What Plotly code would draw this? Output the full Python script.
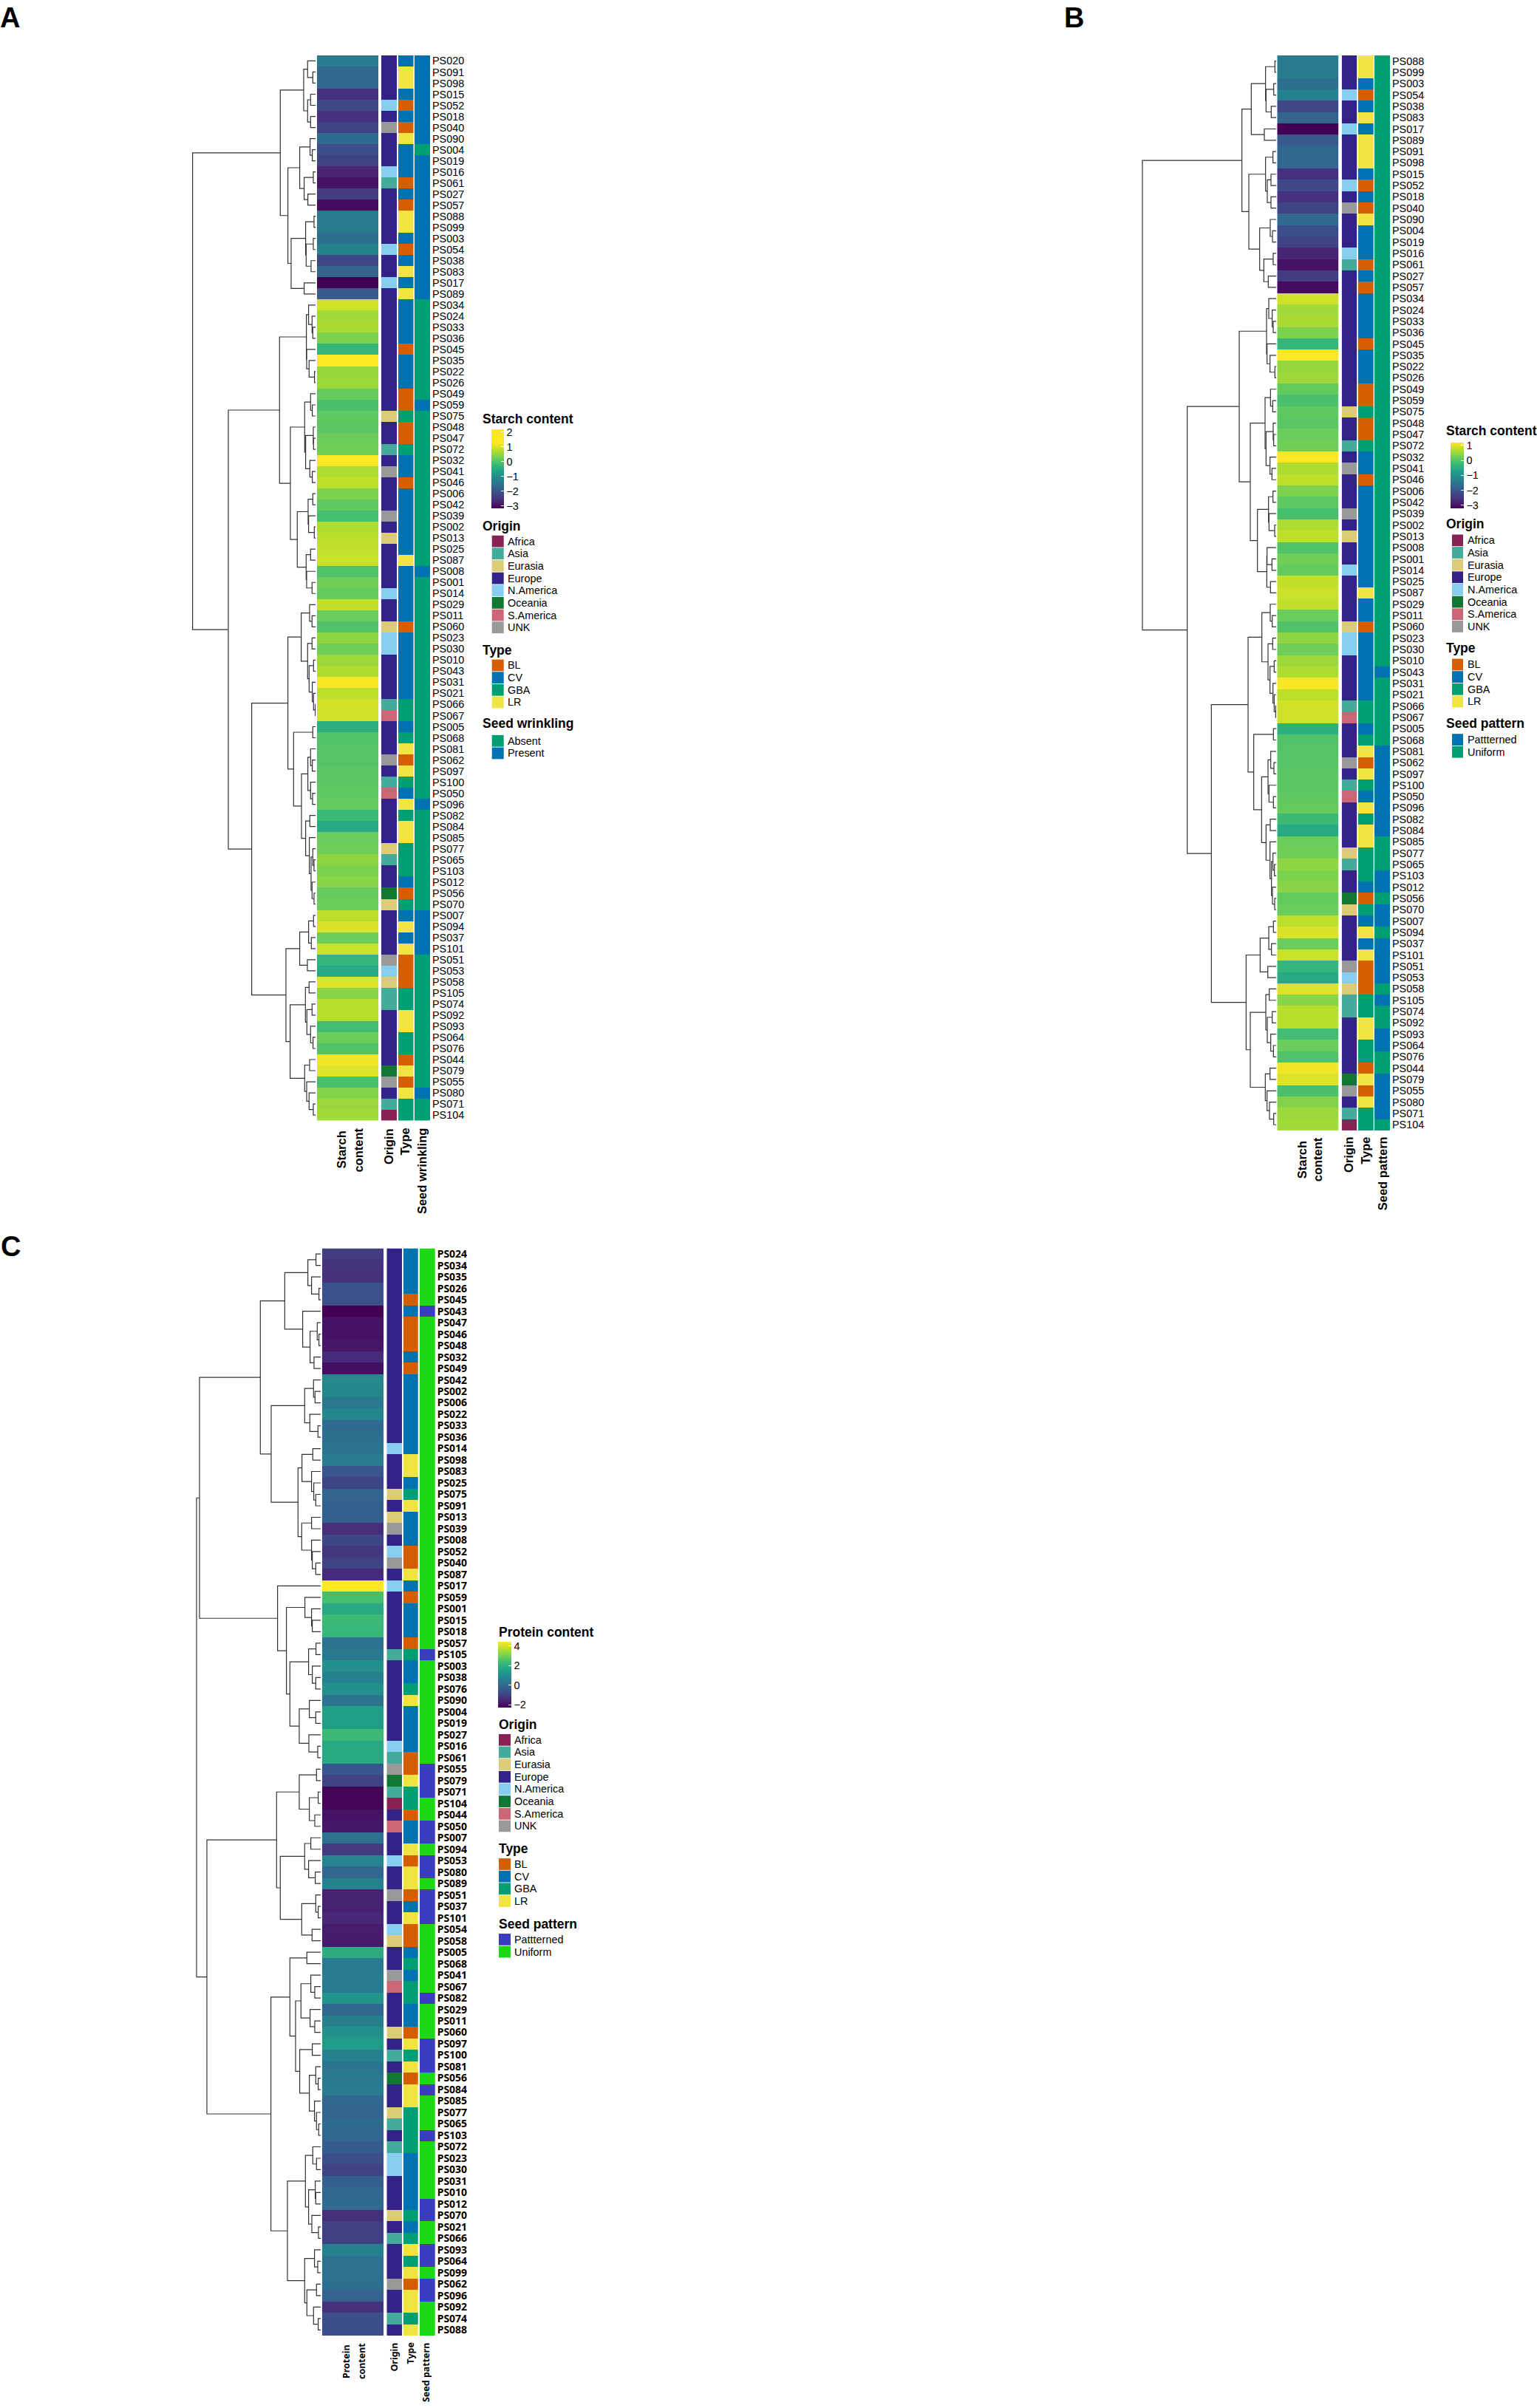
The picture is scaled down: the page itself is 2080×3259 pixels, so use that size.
import plotly.graph_objects as go

W, H = 2080, 3259
SANS = "Liberation Sans"
NOTO = "Noto Sans"

# ---------- data ----------
samples_a = """PS020 PS091 PS098 PS015 PS052 PS018 PS040 PS090 PS004 PS019 PS016 PS061 PS027 PS057 PS088 PS099 PS003 PS054 PS038 PS083 PS017 PS089
PS034 PS024 PS033 PS036 PS045 PS035 PS022 PS026 PS049 PS059 PS075 PS048 PS047 PS072 PS032 PS041 PS046 PS006 PS042 PS039 PS002 PS013 PS025 PS087 PS008 PS001 PS014
PS029 PS011 PS060 PS023 PS030 PS010 PS043 PS031 PS021 PS066 PS067 PS005 PS068 PS081 PS062 PS097 PS100 PS050 PS096 PS082 PS084 PS085 PS077 PS065 PS103 PS012 PS056 PS070
PS007 PS094 PS037 PS101 PS051 PS053 PS058 PS105 PS074 PS092 PS093 PS064 PS076 PS044 PS079 PS055 PS080 PS071 PS104""".split()

samples_b = """PS088 PS099 PS003 PS054 PS038 PS083 PS017 PS089 PS091 PS098 PS015 PS052 PS018 PS040 PS090 PS004 PS019 PS016 PS061 PS027 PS057
PS034 PS024 PS033 PS036 PS045 PS035 PS022 PS026 PS049 PS059 PS075 PS048 PS047 PS072 PS032 PS041 PS046 PS006 PS042 PS039 PS002 PS013 PS008 PS001 PS014 PS025 PS087
PS029 PS011 PS060 PS023 PS030 PS010 PS043 PS031 PS021 PS066 PS067 PS005 PS068 PS081 PS062 PS097 PS100 PS050 PS096 PS082 PS084 PS085 PS077 PS065 PS103 PS012 PS056 PS070
PS007 PS094 PS037 PS101 PS051 PS053 PS058 PS105 PS074 PS092 PS093 PS064 PS076 PS044 PS079 PS055 PS080 PS071 PS104""".split()

samples_c = """PS024 PS034 PS035 PS026 PS045 PS043 PS047 PS046 PS048 PS032 PS049 PS042 PS002 PS006 PS022 PS033 PS036 PS014 PS098 PS083 PS025 PS075 PS091 PS013 PS039 PS008 PS052 PS040 PS087
PS017 PS059 PS001 PS015 PS018 PS057 PS105 PS003 PS038 PS076 PS090 PS004 PS019 PS027 PS016 PS061 PS055 PS079 PS071 PS104 PS044 PS050 PS007 PS094 PS053 PS080 PS089 PS051 PS037 PS101 PS054 PS058
PS005 PS068 PS041 PS067 PS082 PS029 PS011 PS060 PS097 PS100 PS081 PS056 PS084 PS085 PS077 PS065 PS103 PS072 PS023 PS030 PS031 PS010 PS012 PS070 PS021 PS066 PS093 PS064 PS099 PS062 PS096 PS092 PS074 PS088""".split()

starch_a = [-1.35,-1.75,-1.75,-2.58,-2.23,-2.58,-2.32,-1.70,-2.14,-2.32,-2.76,-2.98,-2.41,-3.07,-1.35,-1.35,-1.62,-1.26,-2.23,-1.79,-3.2,-1.97,
 .89,.58,.63,.32,-.30,1.2,.50,.54,.14,-.08,.10,.06,.19,.23,1.2,.67,.76,.32,.10,-.12,.67,.76,.80,.85,-.03,.23,.14,
 .80,.19,-.03,.45,.23,.54,.67,1.16,.76,.89,.89,-.43,-.03,.01,.01,.06,.06,.10,.14,-.21,-.56,.19,.23,.45,.32,.41,.14,.19,
 .76,.94,.19,.85,-.30,-.56,.98,.41,.72,.72,-.16,.19,-.03,1.11,.98,-.08,.36,.54,.58]

protein_c = [-1.09,-1.30,-1.36,-.63,-.63,-2.3,-1.97,-1.97,-1.90,-1.50,-2.03,.85,.78,.38,.78,-.02,.11,.25,.51,-.49,-.89,-.16,-.29,-.29,-1.43,-.89,-1.23,-.96,-1.50,
 4.4,2.39,1.72,2.26,2.19,.25,.38,1.05,.65,1.05,.25,1.45,1.45,2.26,1.72,1.72,-.49,-.96,-2.23,-2.23,-1.97,-1.90,.18,-1.16,.72,-.09,.65,-1.70,-1.70,-1.56,-1.76,-1.83,
 1.85,.45,.51,.45,1.18,-.09,.58,1.05,1.39,.65,.25,.38,.51,-.09,-.16,-.02,-.09,-.36,-.69,-.96,-.29,-.09,-.02,-1.43,-1.03,-1.03,.65,.18,.18,.11,-.22,-1.36,-.69,-.69]

origin_names = ["Africa", "Asia", "Eurasia", "Europe", "N.America", "Oceania", "S.America", "UNK"]
origin_colors = ["#882255", "#44AA99", "#DDCC77", "#332288", "#88CCEE", "#117733", "#CC6677", "#999999"]
type_names = ["BL", "CV", "GBA", "LR"]
type_colors = ["#D55E00", "#0072B2", "#009E73", "#F0E442"]
wrinkling_names = ["Absent", "Present"]
wrinkling_colors = ["#009E73", "#0072B2"]
pattern_names = ["Pattterned", "Uniform"]
pattern_colors_b = ["#0072B2", "#009E73"]
pattern_colors_c = ["#3C3CC0", "#1CD914"]

origin_a = """Europe Europe Europe Europe N.America Europe UNK Europe Europe Europe N.America Asia Europe Europe Europe Europe Europe N.America Europe Europe N.America Europe
Europe Europe Europe Europe Europe Europe Europe Europe Europe Europe Eurasia Europe Europe Asia Europe UNK Europe Europe Europe UNK Europe Eurasia Europe Europe Europe Europe N.America
Europe Europe Eurasia N.America N.America Europe Europe Europe Europe Asia S.America Europe Europe Europe UNK Europe Asia S.America Europe Europe Europe Europe Eurasia Asia Europe Europe Oceania Eurasia
Europe Europe Europe Europe UNK N.America Eurasia Asia Asia Europe Europe Europe Europe Europe Oceania UNK Europe Asia Africa""".split()

type_a = """CV LR LR CV BL CV BL LR CV CV CV BL CV BL LR LR CV BL CV LR CV LR
CV CV CV CV BL CV CV CV BL BL GBA BL BL GBA CV CV BL CV CV CV CV CV CV LR CV CV CV
CV CV BL CV CV CV CV CV CV GBA GBA CV GBA LR BL LR GBA CV LR GBA LR LR GBA GBA GBA CV BL GBA
CV LR CV LR BL BL BL GBA GBA LR LR GBA GBA BL LR BL LR GBA GBA""".split()

wrinkling_present = """PS020 PS091 PS098 PS015 PS052 PS018 PS040 PS090 PS019 PS016 PS061 PS027 PS057 PS088 PS099 PS003 PS054 PS038 PS083 PS017 PS089
PS059 PS008 PS096 PS007 PS094 PS037 PS101 PS080""".split()
patterned_b = """PS043 PS081 PS062 PS097 PS100 PS050 PS096 PS082 PS084 PS103 PS012 PS070 PS007 PS037 PS101 PS051 PS053 PS105 PS093 PS064 PS079 PS055 PS080 PS071""".split()
patterned_c = """PS043 PS105 PS055 PS079 PS071 PS050 PS007 PS053 PS080 PS051 PS037 PS101 PS082 PS097 PS100 PS081 PS084 PS103 PS012 PS070 PS093 PS064 PS062 PS096""".split()

# merge trees: (height, left, right); 0 is a leaf, leaves in row order
tree_a = (500,
 (144,
  (49, (33, 0, (12, 0, 0)), (33, (21, 0, 0), (21, 0, 0))),
  (113,
   (65, (23, 0, (14, 0, 0)), (47, (10, 0, 0), (32, 0, 0))),
   (100, (41, (7, 0, 0), (39, (10, 0, 0), (19, 0, 0))), (47, 0, 0)))),
 (355,
  (147,
   (38, (29, 0, (15, 0, (12, 0, 0))), (37, 0, (27, 0, (5, 0, 0)))),
   (103,
    (45, (21, 0, (14, 0, 0)), (41, (10, 0, (9, 0, 0)), (24, 0, (14, 0, 0)))),
    (75, (31, (12, 0, 0), (29, 0, (6, 0, 0))), (39, (21, 0, 0), (37, 0, (15, 0, 0)))))),
  (260,
   (113,
    (59, (25, 0, (15, 0, 0)), (33, (15, 0, 0), (27, (9, 0, 0), (14, 0, (9, 0, (2, 0, 0)))))),
    (90, (12, 0, 0),
     (58, (32, (21, 0, (14, 0, 0)), (21, 0, (13, 0, 0))),
      (41, (24, 0, 0), (26, 0, (19, (12, 0, (7, 0, 0)), (15, 0, (7, 0, 0)))))))),
   (121,
    (65, (29, (9, 0, 0), (18, 0, 0)), (34, 0, 0)),
    (104, (42, (27, 0, 0), (36, (15, 0, 0), (21, 0, (11, 0, 0)))),
     (45, (25, 0, 0), (37, 0, (27, 0, (10, 0, 0)))))))))

tree_b = (543,
 (139,
  (101, (43, (5, 0, 0), (41, (10, 0, 0), (20, 0, 0))), (48, 0, 0)),
  (111,
   (43, (13, 0, 0), (36, (21, 0, 0), (21, 0, 0))),
   (67, (24, 0, (15, 0, 0)), (50, (12, 0, 0), (32, 0, 0))))),
 (361,
  (150,
   (39, (30, 0, (16, 0, (12, 0, 0))), (37, 0, (25, 0, (5, 0, 0)))),
   (105,
    (45, (23, 0, (14, 0, 0)), (41, (12, 0, (10, 0, 0)), (25, 0, (17, 0, 0)))),
    (76, (31, (13, 0, 0), (29, 0, (6, 0, 0))), (38, (37, 0, (17, 0, 0)), (23, 0, 0))))),
  (263,
   (114,
    (58, (24, 0, (16, 0, 0)), (33, (14, 0, 0), (25, (8, 0, 0), (13, 0, (8, 0, (2, 0, 0)))))),
    (91, (11, 0, 0),
     (59, (33, (22, 0, (9, 0, 0)), (29, 0, (11, 0, 0))),
      (41, (24, 0, 0), (25, 0, (19, (13, 0, (7, 0, 0)), (15, 0, (6, 0, 0)))))))),
   (122,
    (65, (30, (11, 0, 0), (19, 0, 0)), (34, 0, 0)),
    (105, (42, (28, 0, 0), (36, (16, 0, 0), (22, 0, (11, 0, 0)))),
     (44, (25, 0, 0), (37, 0, (27, 0, (10, 0, 0)))))))))

tree_c = (505,
 (493,
  (246,
   (147,
    (53, (20, 0, 0), (38, 0, (8, 0, 0))),
    (74, 0, (44, (15, 0, (8, 0, 0)), (28, 0, 0)))),
   (202,
    (66, (30, 0, (24, 0, 0)), (45, 0, (12, 0, 0))),
    (93,
     (77, (33, 0, 0), (38, 0, (29, 0, (21, 0, 0)))),
     (78, (38, 0, 0), (38, 0, (35, 0, (21, 0, 0))))))),
  (176, 0,
   (140,
    (65, 0, (38, 0, (35, 0, 0))),
    (126,
     (50, (20, 0, 0), (35, 0, (21, 0, 0))),
     (88, (47, 0, (21, 0, 0)), (49, 0, (13, 0, 0))))))),
 (463,
  (180,
   (88, (18, 0, 0), (47, (11, 0, 0), (25, 0, 0))),
   (165,
    (66, (41, 0, 0), (50, 0, (23, 0, 0))),
    (78, (21, 0, (11, 0, 0)), (36, 0, 0)))),
  (203,
   (126, (57, 0, 0),
    (103,
     (81, (41, 0, (25, 0, 0)), (44, 0, (25, 0, 0))),
     (86, (35, 0, 0), (47, (21, 0, (11, 0, 0)), (26, 0, (18, 0, (9, 0, 0))))))),
   (136,
    (63, (33, 0, (18, 0, 0)), (50, (23, 0, (21, 0, 0)), (37, 0, (10, 0, 0)))),
    (66, (26, 0, (13, 0, 0)), (57, (18, 0, 0), (30, 0, (11, 0, 0))))))))

starch_ticks_a = [-3, -2, -1, 0, 1, 2]
starch_ticks_b = [-3, -2, -1, 0, 1]
protein_ticks = [-2, 0, 2, 4]

# ---------- lookups ----------
starch_of = dict(zip(samples_a, starch_a))
protein_of = dict(zip(samples_c, protein_c))
origin_of = dict(zip(samples_a, origin_a))
type_of = dict(zip(samples_a, type_a))

viridis = ["#440154", "#482878", "#3e4989", "#31688e", "#26828e", "#1f9e89", "#35b779", "#6ece58", "#b5de2b", "#fde725"]
def scale(stretch=1.0):
    s = [[i / 9 * stretch, c] for i, c in enumerate(viridis)]
    if stretch < 1:
        s.append([1, viridis[-1]])
    return s

def discrete(colors):
    n = len(colors)
    out = []
    for i, c in enumerate(colors):
        out += [[i / n, c], [(i + 1) / n, c]]
    return out

px = lambda v: v / W
py = lambda v: 1 - v / H

fig = go.Figure()
layout = {}
annots = []
shapes = []
axis_no = [0]

def new_x(left, right, yref, rng, **kw):
    axis_no[0] += 1
    k = axis_no[0]
    name = "xaxis" if k == 1 else f"xaxis{k}"
    layout[name] = dict(domain=[px(left), px(right)], range=rng, anchor=yref, visible=False, fixedrange=True, **kw)
    return "x" if k == 1 else f"x{k}"

def walk(node, counter, xs, ys):
    if node == 0:
        counter[0] += 1
        return counter[0] - 1, 0
    h, a, b = node
    ya, ha = walk(a, counter, xs, ys)
    yb, hb = walk(b, counter, xs, ys)
    xs += [ha, h, h, hb, None]
    ys += [ya, ya, yb, yb, None]
    return (ya + yb) / 2, h

def text(x, y, s, size=14.4, family=SANS, bold=False, anchor="left", vanchor="middle", angle=0):
    annots.append(dict(x=px(x), y=py(y), xref="paper", yref="paper", text=f"<b>{s}</b>" if bold else s,
                       showarrow=False, xanchor=anchor, yanchor=vanchor, textangle=angle,
                       font=dict(family=family, size=size, color="black"), borderpad=0, borderwidth=0))

def panel(yno, top, bottom, leaf_x, tree, tree_span, cols, rows, values, zmin, zmax, cs, seed_flagged, seed_colors, label_font, cb):
    n = len(rows)
    yref = "y" if yno == 1 else f"y{yno}"
    # dendrogram
    xa = new_x(leaf_x - tree_span / 3, leaf_x, yref, [tree_span, 0])
    counter, xs, ys = [0], [], []
    walk(tree, counter, xs, ys)
    assert counter[0] == n, (counter[0], n)
    fig.add_trace(go.Scatter(x=xs, y=ys, xaxis=xa, yaxis=yref, mode="lines", hoverinfo="skip", showlegend=False,
                             line=dict(color="#333333", width=1.2)))
    idx = list(range(n))
    # continuous column with native colorbar
    xa = new_x(cols[0][0], cols[0][1], yref, [-.5, .5])
    fig.add_trace(go.Heatmap(x=[0], y=idx, z=[[values[s]] for s in rows], xaxis=xa, yaxis=yref, zmin=zmin, zmax=zmax,
                             colorscale=cs, hoverinfo="skip",
                             colorbar=dict(x=px(cb["x"]), xanchor="left", xpad=0, y=py(cb["top"]), yanchor="top", ypad=0,
                                           len=cb["bottom"] - cb["top"], lenmode="pixels",
                                           thickness=cb["w"], thicknessmode="pixels", outlinewidth=0,
                                           tickvals=cb["ticks"], ticks="inside", ticklen=4, tickcolor="white", tickwidth=1.2,
                                           tickfont=dict(family=SANS, size=14.4, color="black"))))
    # categorical columns
    columns = [([origin_names.index(origin_of[s]) for s in rows], origin_colors),
               ([type_names.index(type_of[s]) for s in rows], type_colors),
               ([1 if s in seed_flagged else 0 for s in rows], seed_colors)]
    for (codes, colors), (l, r) in zip(columns, cols[1:]):
        xa = new_x(l, r, yref, [-.5, .5])
        fig.add_trace(go.Heatmap(x=[0], y=idx, z=[[c] for c in codes], xaxis=xa, yaxis=yref, zmin=-.5, zmax=len(colors) - .5,
                                 colorscale=discrete(colors), showscale=False, hoverinfo="skip"))
    layout["yaxis" if yno == 1 else f"yaxis{yno}"] = dict(
        domain=[py(bottom), py(top)], range=[n - .5, -.5], anchor=xa, side="right", tickmode="array", tickvals=idx,
        ticktext=rows, ticks="", showgrid=False, zeroline=False, showline=False, fixedrange=True, ticklabelstandoff=2,
        tickfont=label_font)

def legend_cat(title, names, colors, title_y, first_y, title_x, sw_l, sw_r, lab_x, step=16.67):
    text(title_x, title_y, title, size=17.5, bold=True)
    for i, (nm, c) in enumerate(zip(names, colors)):
        cy = first_y + i * step
        shapes.append(dict(type="rect", xref="paper", yref="paper", x0=px(sw_l), x1=px(sw_r), y0=py(cy - 7.9), y1=py(cy + 7.9),
                           fillcolor=c, line=dict(width=0)))
        text(lab_x, cy, nm)

# ---------- panel A ----------
panel(1, 73, 1516, 427.3, tree_a, 540,
      [(429, 512), (516, 537), (539, 559.5), (561, 582)],
      samples_a, starch_of, -3.2, 2.17, scale((1.2 + 3.2) / (2.17 + 3.2)), wrinkling_present, wrinkling_colors,
      dict(family=SANS, size=14.4, color="black"),
      dict(x=665, top=580, bottom=687, w=17, ticks=starch_ticks_a))
text(652.7, 566, "Starch content", size=17.5, bold=True)
legend_cat("Origin", origin_names, origin_colors, 711, 731.3, 652.7, 665.7, 681.7, 686.7)
legend_cat("Type", type_names, type_colors, 879.3, 899.3, 652.7, 665.7, 681.7, 686.7)
legend_cat("Seed wrinkling", wrinkling_names, wrinkling_colors, 978.3, 1001.7, 652.7, 665.7, 681.7, 686.7)
for x, s in [(462, "Starch"), (485, "content")]:
    text(x, 1556, s, size=16.5, bold=True, anchor="center", angle=-90)
for x, s in [(525.5, "Origin"), (548, "Type"), (571, "Seed wrinkling")]:
    text(x, 1526.5, s, size=16.5, bold=True, anchor="center", vanchor="top", angle=-90)

# ---------- panel B ----------
panel(2, 73, 1529.3, 1727, tree_b, 570,
      [(1728.3, 1811.7), (1815.7, 1836.3), (1838, 1858.7), (1860, 1881)],
      samples_b, starch_of, -3.2, 1.2, scale(), patterned_b, pattern_colors_b[::-1],
      dict(family=SANS, size=14.4, color="black"),
      dict(x=1963.3, top=597.3, bottom=686.7, w=17.7, ticks=starch_ticks_b))
text(1957.3, 581.7, "Starch content", size=17.5, bold=True)
legend_cat("Origin", origin_names, origin_colors, 707.3, 730, 1957.3, 1965, 1980, 1985.7)
legend_cat("Type", type_names, type_colors, 876, 898.3, 1957.3, 1965, 1980, 1985.7)
legend_cat("Seed pattern", pattern_names, pattern_colors_b, 977.7, 1000, 1957.3, 1965, 1980, 1985.7)
for x, s in [(1761.7, "Starch"), (1782.7, "content")]:
    text(x, 1569, s, size=16.5, bold=True, anchor="center", angle=-90)
for x, s in [(1825, "Origin"), (1847.7, "Type"), (1870.7, "Seed pattern")]:
    text(x, 1538, s, size=16.5, bold=True, anchor="center", vanchor="top", angle=-90)

# ---------- panel C ----------
panel(3, 1689, 3162, 434.3, tree_c, 540,
      [(436, 519.3), (523.3, 544), (545.7, 566), (568, 588.7)],
      samples_c, protein_of, -2.3, 4.4, scale(), patterned_c, pattern_colors_c[::-1],
      dict(family=NOTO, size=14, color="black", weight="bold"),
      dict(x=674.3, top=2222.3, bottom=2311.7, w=17.7, ticks=protein_ticks))
text(674.7, 2209, "Protein content", size=17.5, bold=True)
legend_cat("Origin", origin_names, origin_colors, 2334, 2355, 674.7, 675, 691, 696)
legend_cat("Type", type_names, type_colors, 2502.7, 2523.3, 674.7, 675, 691, 696)
legend_cat("Seed pattern", pattern_names, pattern_colors_c, 2604.3, 2625.3, 674.7, 675, 691, 696)
for x, s in [(468, "Protein"), (489, "content")]:
    text(x, 3197, s, size=12.5, family=NOTO, bold=True, anchor="center", angle=-90)
for x, s in [(534, "Origin"), (556, "Type"), (576, "Seed pattern")]:
    text(x, 3172, s, size=12.5, family=NOTO, bold=True, anchor="center", vanchor="top", angle=-90)

# panel letters
text(0, 22, "A", size=38, bold=True)
text(1440, 22, "B", size=38, bold=True)
text(1, 1687, "C", size=38, bold=True)

fig.update_layout(width=W, height=H, margin=dict(l=0, r=0, t=0, b=0), autosize=False, paper_bgcolor="white",
                  plot_bgcolor="white", showlegend=False, annotations=annots, shapes=shapes, **layout)
fig.write_html("out.html", config={"displayModeBar": False}, post_script="document.body.style.margin='0';")
